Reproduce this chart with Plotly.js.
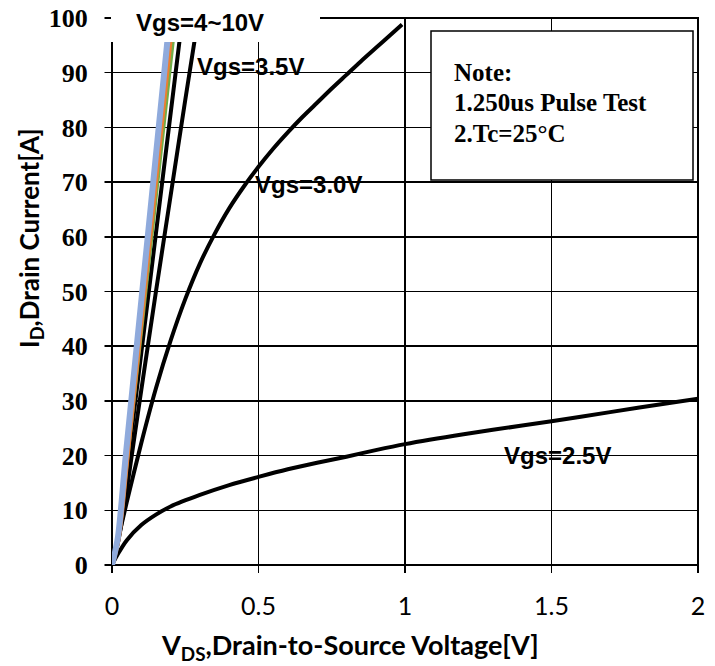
<!DOCTYPE html>
<html>
<head>
<meta charset="utf-8">
<script src="https://cdn.plot.ly/plotly-3.0.1.min.js"></script>
<style>html,body{margin:0;padding:0;background:#fff;}#chart{width:715px;height:666px;}</style>
</head>
<body>
<div id="chart"></div>
<script>
// ---- data ----
const xTicks = [0, 0.5, 1, 1.5, 2];
const xTickText = ['0', '0.5', '1', '1.5', '2'];
const yTicks = [0, 10, 20, 30, 40, 50, 60, 70, 80, 90, 100];

const vds_25 = [0, 0.02, 0.05, 0.1, 0.15, 0.2, 0.3, 0.4, 0.5, 0.6, 0.7, 0.8, 0.9, 1.0, 1.2, 1.4, 1.6, 1.8, 2.0];
const id_25  = [0, 2.0, 4.5, 7.3, 9.2, 10.7, 12.8, 14.6, 16.1, 17.5, 18.7, 19.8, 21.0, 22.1, 23.9, 25.5, 27.1, 28.8, 30.4];

const vds_30 = [0, 0.05, 0.1, 0.15, 0.2, 0.25, 0.3, 0.35, 0.4, 0.45, 0.5, 0.55, 0.6, 0.65, 0.7, 0.75, 0.8, 0.85, 0.9, 0.95, 0.99];
const id_30  = [0, 11.4, 22.3, 32.3, 41.0, 48.6, 55.1, 60.5, 65.2, 69.2, 72.8, 76.1, 79.1, 81.9, 84.5, 87.1, 89.6, 92.1, 94.5, 96.9, 98.8];

const vds_35 = [0, 0.02, 0.04, 0.07, 0.1, 0.15, 0.2, 0.25, 0.294];
const id_35  = [0, 4, 10, 21, 32, 50, 67.5, 85, 100];

const vds_4  = [0, 0.023, 0.057, 0.24];
const id_4   = [0, 5, 20, 100];

const vds_6  = [0, 0.022, 0.053, 0.216];
const id_6   = [0, 5, 20, 100];

const vds_8  = [0, 0.022, 0.052, 0.206];
const id_8   = [0, 5, 20, 100];

const vds_10 = [0, 0.02, 0.047, 0.197];
const id_10  = [0, 5, 20, 100];

const labels = ['Vgs=4~10V', 'Vgs=3.5V', 'Vgs=3.0V', 'Vgs=2.5V'];
const noteLines = ['Note:', '1.250us Pulse Test', '2.Tc=25\u00B0C'];
const xTitle = 'V<sub>DS</sub>,Drain-to-Source Voltage[V]';
const yTitle = 'I<sub>D</sub>,Drain Current[A]';

// ---- traces ----
function line(x, y, name, color, width) {
  return {x: x, y: y, name: name, type: 'scatter', mode: 'lines',
          line: {color: color, width: width, shape: 'spline', smoothing: 0.8},
          hoverinfo: 'x+y+name'};
}
const data = [
  line(vds_25, id_25, 'Vgs=2.5V', '#000000', 4),
  line(vds_30, id_30, 'Vgs=3.0V', '#000000', 4),
  line(vds_35, id_35, 'Vgs=3.5V', '#000000', 4),
  line(vds_4,  id_4,  'Vgs=4V',   '#000000', 4),
  line(vds_6,  id_6,  'Vgs=6V',   '#70AD47', 4),
  line(vds_8,  id_8,  'Vgs=8V',   '#ED7D31', 5),
  line(vds_10, id_10, 'Vgs=10V',  '#8FAADC', 6)
];

const sansBold = {family: 'Liberation Sans, Arial, sans-serif', size: 24, color: '#000', weight: 'bold'};
const serifBold = {family: 'Liberation Serif, Times New Roman, serif', size: 25, color: '#000', weight: 'bold'};
const xTitleFont = {family: 'Lato, Calibri, sans-serif', size: 27, color: '#000', weight: 'bold'};
const yTitleFont = {family: 'Lato, Calibri, sans-serif', size: 26, color: '#000', weight: 'bold'};

const px = v => (v - 112) / 586;   // pixel -> paper x
const py = v => (565 - v) / 547;   // pixel -> paper y

const annotations = [
  {x: 0.30, y: 99.1, xref: 'x', yref: 'y', text: labels[0], showarrow: false, font: sansBold},
  {x: 0.471, y: 91.2, xref: 'x', yref: 'y', text: labels[1], showarrow: false, font: sansBold},
  {x: 0.669, y: 69.5, xref: 'x', yref: 'y', text: labels[2], showarrow: false, font: sansBold},
  {x: 1.519, y: 20.1, xref: 'x', yref: 'y', text: labels[3], showarrow: false, font: sansBold},
  {x: px(452), y: py(72), xref: 'paper', yref: 'paper', xanchor: 'left', yanchor: 'middle',
   text: noteLines[0], showarrow: false, font: serifBold},
  {x: px(452), y: py(103), xref: 'paper', yref: 'paper', xanchor: 'left', yanchor: 'middle',
   text: noteLines[1], showarrow: false, font: serifBold},
  {x: px(452), y: py(133), xref: 'paper', yref: 'paper', xanchor: 'left', yanchor: 'middle',
   text: noteLines[2], showarrow: false, font: serifBold},
  {x: px(350), y: py(646), xref: 'paper', yref: 'paper', xanchor: 'center', yanchor: 'middle',
   text: xTitle, showarrow: false, font: xTitleFont},
  {x: px(30), y: py(238), xref: 'paper', yref: 'paper', xanchor: 'center', yanchor: 'middle',
   text: yTitle, showarrow: false, textangle: -90, font: yTitleFont}
];

const shapes = [
  // plot frame
  {type: 'rect', xref: 'paper', yref: 'paper', x0: 0, x1: 1, y0: 0, y1: 1,
   line: {color: '#000', width: 2}, fillcolor: 'rgba(0,0,0,0)', layer: 'between'},
  // white strip trimming the y ticks to their visible length
  {type: 'rect', xref: 'paper', yref: 'paper', x0: px(92.3), x1: px(104.5),
   y0: py(575), y1: py(5), fillcolor: '#ffffff', line: {width: 0}, layer: 'above'},
  // white label background covering the top-left frame
  {type: 'rect', xref: 'paper', yref: 'paper', x0: px(111), x1: px(320),
   y0: py(42), y1: py(0), fillcolor: '#ffffff', line: {width: 0}, layer: 'above'},
  // note box
  {type: 'rect', xref: 'paper', yref: 'paper', x0: px(431), x1: px(693),
   y0: py(180), y1: py(31), fillcolor: '#ffffff', line: {color: '#000', width: 1.5}, layer: 'above'}
];

const axisCommon = {
  showgrid: true, gridcolor: '#000', gridwidth: 1.5,
  showline: false, mirror: false,
  ticks: 'outside', tickwidth: 1.5, tickcolor: '#000',
  zeroline: false, fixedrange: true
};

const layout = {
  width: 715, height: 666,
  margin: {l: 112, r: 17, t: 18, b: 101, pad: 0},
  paper_bgcolor: '#fff', plot_bgcolor: '#fff',
  showlegend: false,
  xaxis: Object.assign({}, axisCommon, {
    range: [0, 2], tickvals: xTicks, ticktext: xTickText, ticklen: 7,
    tickfont: {family: 'Lato, Calibri, sans-serif', size: 25, color: '#000'},
    ticklabelposition: 'outside',
    ticklabelstandoff: 12
  }),
  yaxis: Object.assign({}, axisCommon, {
    range: [0, 100], tickvals: yTicks, ticklen: 18,
    tickfont: {family: 'Liberation Serif', size: 26, color: '#000', weight: 'bold'}
  }),
  annotations: annotations,
  shapes: shapes
};

Plotly.newPlot('chart', data, layout, {staticPlot: true});
</script>
</body>
</html>
